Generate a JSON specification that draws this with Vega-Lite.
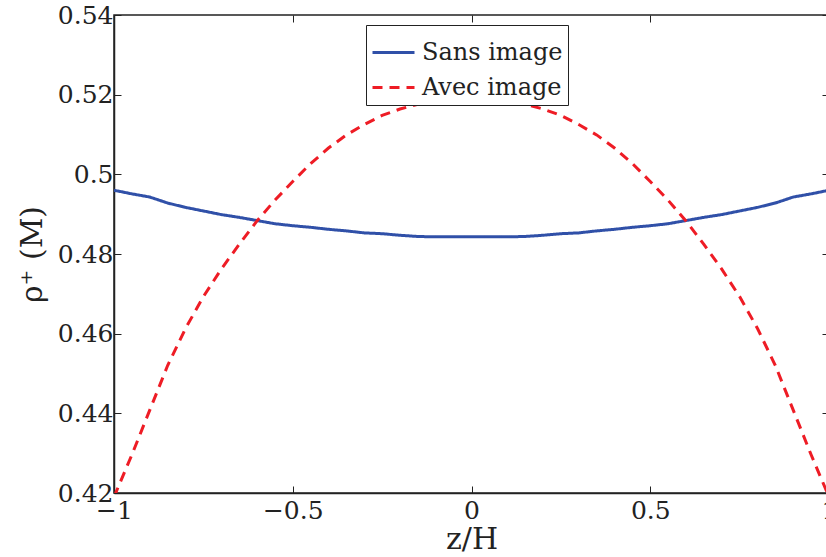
{
  "$schema": "https://vega.github.io/schema/vega-lite/v6.json",
  "autosize": "none",
  "padding": {"left": 114, "top": 15, "right": 0, "bottom": 64},
  "width": 715,
  "height": 478,
  "background": "white",
  "config": {
    "view": {"stroke": "#222", "strokeWidth": 1.5},
    "font": "DejaVu Serif",
    "axis": {
      "domainColor": "#222", "domainWidth": 1.5, "tickColor": "#222", "tickSize": -7, "tickWidth": 1,
      "grid": false, "labelFont": "DejaVu Serif", "labelFontSize": 25, "labelColor": "#222",
      "titleFont": "DejaVu Serif", "titleFontSize": 30, "titleColor": "#222", "titleFontWeight": "normal"
    }
  },
  "data": {"values": [
    {"z": -1.00, "v": 0.4960, "s": "Sans image"},
    {"z": -0.95, "v": 0.4951, "s": "Sans image"},
    {"z": -0.90, "v": 0.4943, "s": "Sans image"},
    {"z": -0.85, "v": 0.4928, "s": "Sans image"},
    {"z": -0.80, "v": 0.4917, "s": "Sans image"},
    {"z": -0.75, "v": 0.4908, "s": "Sans image"},
    {"z": -0.70, "v": 0.4899, "s": "Sans image"},
    {"z": -0.65, "v": 0.4892, "s": "Sans image"},
    {"z": -0.60, "v": 0.4884, "s": "Sans image"},
    {"z": -0.55, "v": 0.4876, "s": "Sans image"},
    {"z": -0.50, "v": 0.4871, "s": "Sans image"},
    {"z": -0.45, "v": 0.4867, "s": "Sans image"},
    {"z": -0.40, "v": 0.4862, "s": "Sans image"},
    {"z": -0.35, "v": 0.4858, "s": "Sans image"},
    {"z": -0.30, "v": 0.4853, "s": "Sans image"},
    {"z": -0.25, "v": 0.4851, "s": "Sans image"},
    {"z": -0.20, "v": 0.4847, "s": "Sans image"},
    {"z": -0.15, "v": 0.4844, "s": "Sans image"},
    {"z": -0.10, "v": 0.4843, "s": "Sans image"},
    {"z": 0.00, "v": 0.4843, "s": "Sans image"},
    {"z": 0.10, "v": 0.4843, "s": "Sans image"},
    {"z": 0.15, "v": 0.4844, "s": "Sans image"},
    {"z": 0.20, "v": 0.4847, "s": "Sans image"},
    {"z": 0.25, "v": 0.4851, "s": "Sans image"},
    {"z": 0.30, "v": 0.4853, "s": "Sans image"},
    {"z": 0.35, "v": 0.4858, "s": "Sans image"},
    {"z": 0.40, "v": 0.4862, "s": "Sans image"},
    {"z": 0.45, "v": 0.4867, "s": "Sans image"},
    {"z": 0.50, "v": 0.4871, "s": "Sans image"},
    {"z": 0.55, "v": 0.4876, "s": "Sans image"},
    {"z": 0.60, "v": 0.4884, "s": "Sans image"},
    {"z": 0.65, "v": 0.4892, "s": "Sans image"},
    {"z": 0.70, "v": 0.4899, "s": "Sans image"},
    {"z": 0.75, "v": 0.4908, "s": "Sans image"},
    {"z": 0.80, "v": 0.4917, "s": "Sans image"},
    {"z": 0.85, "v": 0.4928, "s": "Sans image"},
    {"z": 0.90, "v": 0.4943, "s": "Sans image"},
    {"z": 0.95, "v": 0.4951, "s": "Sans image"},
    {"z": 1.00, "v": 0.4960, "s": "Sans image"},
    {"z": -1.00, "v": 0.4190, "s": "Avec image"},
    {"z": -0.95, "v": 0.4296, "s": "Avec image"},
    {"z": -0.90, "v": 0.4408, "s": "Avec image"},
    {"z": -0.85, "v": 0.4520, "s": "Avec image"},
    {"z": -0.80, "v": 0.4613, "s": "Avec image"},
    {"z": -0.75, "v": 0.4693, "s": "Avec image"},
    {"z": -0.70, "v": 0.4762, "s": "Avec image"},
    {"z": -0.65, "v": 0.4824, "s": "Avec image"},
    {"z": -0.60, "v": 0.4883, "s": "Avec image"},
    {"z": -0.55, "v": 0.4935, "s": "Avec image"},
    {"z": -0.50, "v": 0.4982, "s": "Avec image"},
    {"z": -0.45, "v": 0.5027, "s": "Avec image"},
    {"z": -0.40, "v": 0.5066, "s": "Avec image"},
    {"z": -0.35, "v": 0.5099, "s": "Avec image"},
    {"z": -0.30, "v": 0.5125, "s": "Avec image"},
    {"z": -0.25, "v": 0.5148, "s": "Avec image"},
    {"z": -0.20, "v": 0.5164, "s": "Avec image"},
    {"z": -0.15, "v": 0.5176, "s": "Avec image"},
    {"z": -0.10, "v": 0.5183, "s": "Avec image"},
    {"z": -0.05, "v": 0.5186, "s": "Avec image"},
    {"z": 0.00, "v": 0.5187, "s": "Avec image"},
    {"z": 0.05, "v": 0.5186, "s": "Avec image"},
    {"z": 0.10, "v": 0.5183, "s": "Avec image"},
    {"z": 0.15, "v": 0.5176, "s": "Avec image"},
    {"z": 0.20, "v": 0.5164, "s": "Avec image"},
    {"z": 0.25, "v": 0.5148, "s": "Avec image"},
    {"z": 0.30, "v": 0.5125, "s": "Avec image"},
    {"z": 0.35, "v": 0.5099, "s": "Avec image"},
    {"z": 0.40, "v": 0.5066, "s": "Avec image"},
    {"z": 0.45, "v": 0.5027, "s": "Avec image"},
    {"z": 0.50, "v": 0.4982, "s": "Avec image"},
    {"z": 0.55, "v": 0.4935, "s": "Avec image"},
    {"z": 0.60, "v": 0.4883, "s": "Avec image"},
    {"z": 0.65, "v": 0.4824, "s": "Avec image"},
    {"z": 0.70, "v": 0.4762, "s": "Avec image"},
    {"z": 0.75, "v": 0.4693, "s": "Avec image"},
    {"z": 0.80, "v": 0.4613, "s": "Avec image"},
    {"z": 0.85, "v": 0.4520, "s": "Avec image"},
    {"z": 0.90, "v": 0.4408, "s": "Avec image"},
    {"z": 0.95, "v": 0.4296, "s": "Avec image"},
    {"z": 1.00, "v": 0.4190, "s": "Avec image"}
  ]},
  "layer": [
    {
      "mark": {"type": "line", "strokeWidth": 3, "clip": true},
      "encoding": {
        "x": {"field": "z", "type": "quantitative", "scale": {"domain": [-1, 1], "nice": false, "zero": false},
          "axis": {"values": [-1, -0.5, 0, 0.5, 1], "format": "~g", "title": "z/H", "labelPadding": 12, "titlePadding": 1, "labelFlush": false}},
        "y": {"field": "v", "type": "quantitative", "scale": {"domain": [0.42, 0.54], "nice": false, "zero": false},
          "axis": {"values": [0.42, 0.44, 0.46, 0.48, 0.5, 0.52, 0.54], "format": "~g", "title": "ρ⁺ (M)", "labelPadding": 8, "titlePadding": 10}},
        "color": {"field": "s", "type": "nominal", "sort": ["Sans image", "Avec image"],
          "scale": {"domain": ["Sans image", "Avec image"], "range": ["#3050A8", "#EE1C25"]},
          "legend": {"orient": "none", "legendX": 252, "legendY": 10, "title": null, "symbolType": "stroke", "symbolSize": 1764,
            "symbolStrokeWidth": 3, "labelFontSize": 24, "labelFont": "DejaVu Serif", "labelColor": "#222", "labelLimit": 300,
            "strokeColor": "#222", "fillColor": "white", "padding": 5, "rowPadding": -2, "labelOffset": 6}},
        "strokeDash": {"field": "s", "type": "nominal", "sort": ["Sans image", "Avec image"],
          "scale": {"domain": ["Sans image", "Avec image"], "range": [[1, 0], [10, 7]]},
          "legend": null},
        "order": {"field": "z", "type": "quantitative"}
      }
    },
    {
      "mark": {"type": "line", "opacity": 0},
      "encoding": {
        "x": {"field": "z", "type": "quantitative", "axis": {"orient": "top", "values": [-1, -0.5, 0, 0.5, 1], "labels": false, "title": null, "domain": false}},
        "y": {"field": "v", "type": "quantitative", "axis": {"orient": "right", "values": [0.42, 0.44, 0.46, 0.48, 0.5, 0.52, 0.54], "labels": false, "title": null, "domain": false}},
        "detail": {"field": "s"}
      }
    }
  ],
  "resolve": {"axis": {"x": "independent", "y": "independent"}}
}
